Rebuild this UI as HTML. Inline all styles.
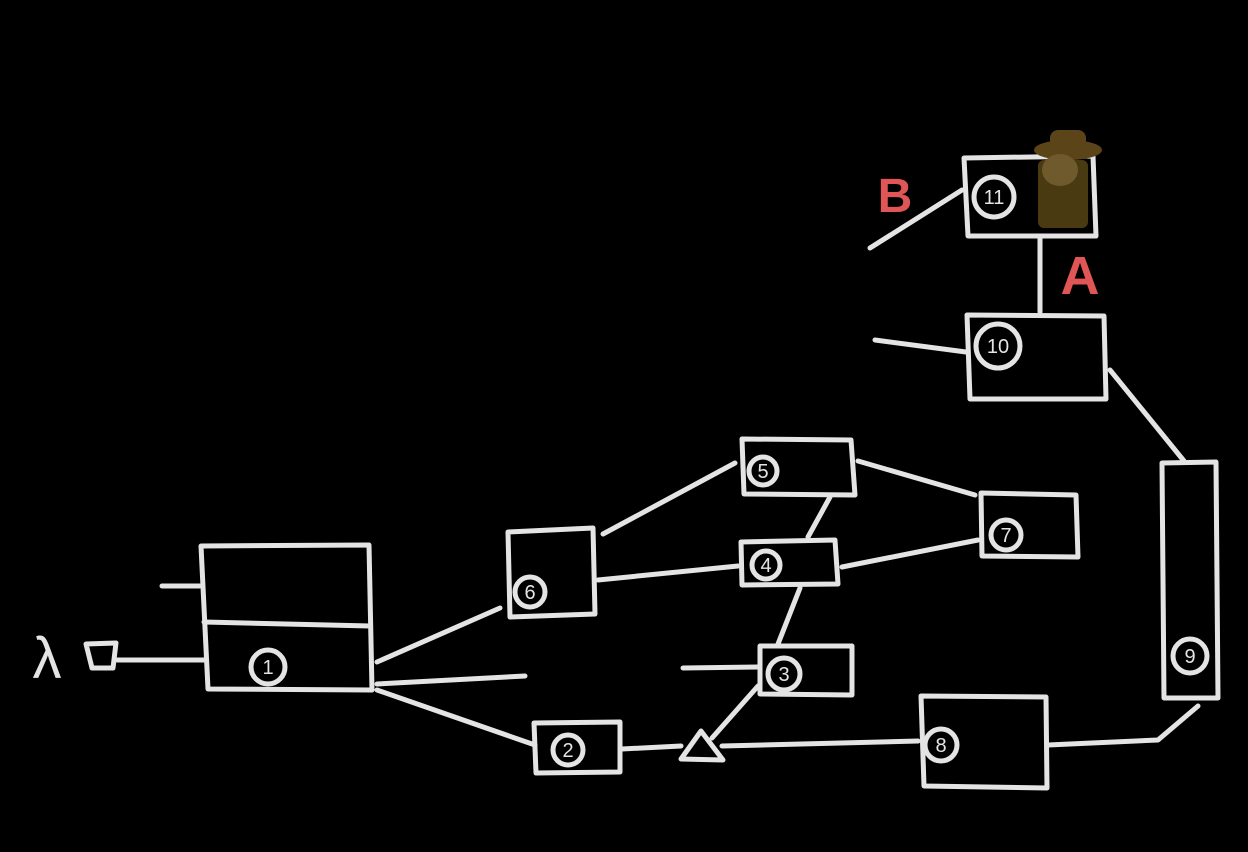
<!DOCTYPE html>
<html><head><meta charset="utf-8"><style>
html,body{margin:0;padding:0;background:#000;}
svg{display:block}
text{font-family:"Liberation Sans",sans-serif;}
</style></head><body>
<svg width="1248" height="852" viewBox="0 0 1248 852" xmlns="http://www.w3.org/2000/svg">
<rect width="1248" height="852" fill="#000"/>
<g stroke="#e4e4e4" stroke-width="5" fill="none" stroke-linecap="round" stroke-linejoin="round">
<path d="M201,546 L369,545 L372,690 L208,689 Z"/>
<path d="M204,622 L370,626"/>
<path d="M162,586 L200,586"/>
<path d="M117,660 L205,660"/>
<path d="M86,644 L116,643 L113,668 L92,668 Z"/>
<circle cx="268" cy="667" r="17"/>
<path d="M377,662 L500,608"/>
<path d="M377,684 L525,676"/>
<path d="M377,690 L535,745"/>
<path d="M508,532 L593,528 L595,614 L510,617 Z"/>
<circle cx="530" cy="592" r="15"/>
<path d="M742,439 L851,440 L855,495 L744,494 Z"/>
<circle cx="763" cy="471" r="14"/>
<path d="M741,542 L835,540 L838,584 L742,585 Z"/>
<circle cx="766" cy="565" r="14"/>
<path d="M981,493 L1076,495 L1078,557 L982,556 Z"/>
<circle cx="1006" cy="535" r="15"/>
<path d="M760,646 L852,646 L852,695 L760,694 Z"/>
<circle cx="784" cy="674" r="16"/>
<path d="M683,668 L758,667"/>
<path d="M534,723 L620,722 L620,772 L536,773 Z"/>
<circle cx="568" cy="750" r="15"/>
<path d="M681,759 L723,760 L701,731 Z"/>
<path d="M921,696 L1046,697 L1047,788 L924,786 Z"/>
<circle cx="941" cy="745" r="16"/>
<path d="M1162,463 L1216,462 L1218,698 L1164,698 Z"/>
<circle cx="1190" cy="656" r="17"/>
<path d="M967,315 L1104,316 L1106,399 L970,399 Z"/>
<circle cx="998" cy="346" r="22"/>
<path d="M875,340 L966,352"/>
<path d="M964,158 L1093,156 L1096,236 L968,236 Z"/>
<circle cx="994" cy="197" r="20"/>
<path d="M870,248 L962,190"/>
<path d="M1040,238 L1040,312"/>
<path d="M603,534 L735,463"/>
<path d="M598,580 L738,566"/>
<path d="M830,497 L808,537"/>
<path d="M858,461 L975,495"/>
<path d="M842,567 L978,540"/>
<path d="M800,588 L778,644"/>
<path d="M758,686 L712,738"/>
<path d="M622,749 L681,746"/>
<path d="M722,746 L918,741"/>
<path d="M1048,745 L1158,740 L1198,706"/>
<path d="M1110,370 L1184,461"/>
</g>
<g fill="#e4e4e4" font-size="20" text-anchor="middle">
<text x="268" y="674">1</text>
<text x="568" y="757">2</text>
<text x="784" y="681">3</text>
<text x="766" y="572">4</text>
<text x="763" y="478">5</text>
<text x="530" y="599">6</text>
<text x="1006" y="542">7</text>
<text x="941" y="752">8</text>
<text x="1190" y="663">9</text>
<text x="998" y="353">10</text>
<text x="994" y="204">11</text>
<text x="47" y="678" font-size="58">λ</text>
</g>
<text x="895" y="212" fill="#e05555" font-size="48" font-weight="bold" text-anchor="middle">B</text>
<text x="1080" y="294" fill="#e05555" font-size="54" font-weight="bold" text-anchor="middle">A</text>
<g>
<ellipse cx="1068" cy="150" rx="34" ry="10" fill="#5a4418"/>
<rect x="1050" y="130" width="36" height="22" rx="8" fill="#5a4418"/>
<rect x="1038" y="160" width="50" height="68" rx="6" fill="#4a3a12"/>
<ellipse cx="1060" cy="170" rx="18" ry="16" fill="#6e5a2c"/>
</g>
</svg>
</body></html>
